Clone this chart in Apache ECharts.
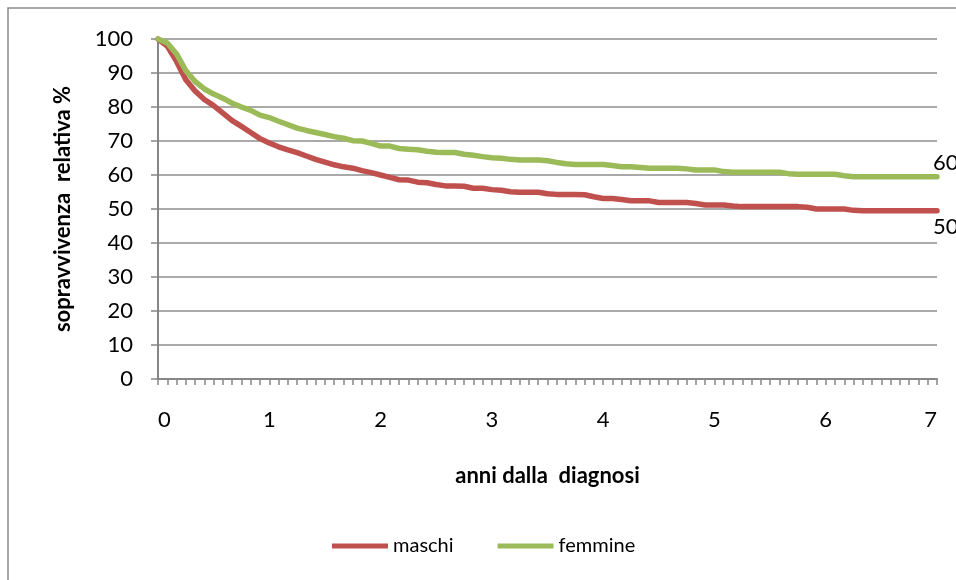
<!DOCTYPE html>
<html>
<head>
<meta charset="utf-8">
<script src="https://cdn.jsdelivr.net/npm/echarts@6/dist/echarts.min.js"></script>
<style>
html,body{margin:0;padding:0;background:#fff;}
#c{width:956px;height:580px;}
</style>
</head>
<body>
<div id="c"></div>
<script>
// months since diagnosis (0..84)
const months = Array.from({length: 85}, (_, i) => String(i));
const yearLabels = ['0','1','2','3','4','5','6','7'];
const seriesNames = ['maschi', 'femmine'];

const maschi = [
  100, 97.9, 93.4, 88.0, 84.7, 82.2, 80.4, 78.2, 76.0, 74.3,
  72.5, 70.7, 69.4, 68.3, 67.4, 66.6, 65.6, 64.6, 63.8, 63.0,
  62.4, 62.0, 61.3, 60.7, 60.0, 59.3, 58.6, 58.5, 57.9, 57.7,
  57.2, 56.8, 56.8, 56.7, 56.1, 56.1, 55.7, 55.5, 55.1, 54.9,
  54.9, 54.9, 54.5, 54.3, 54.3, 54.3, 54.2, 53.6, 53.1, 53.1,
  52.8, 52.4, 52.4, 52.4, 51.9, 51.9, 51.9, 51.9, 51.6, 51.2,
  51.2, 51.2, 50.9, 50.7, 50.7, 50.7, 50.7, 50.7, 50.7, 50.7,
  50.5, 50.0, 50.0, 50.0, 50.0, 49.6, 49.5, 49.5, 49.5, 49.5,
  49.5, 49.5, 49.5, 49.5, 49.5
];

const femmine = [
  100, 98.8, 95.6, 90.7, 87.5, 85.3, 83.8, 82.6, 81.1, 80.0,
  79.0, 77.6, 76.9, 75.8, 74.8, 73.8, 73.1, 72.5, 71.9, 71.3,
  70.8, 70.1, 70.0, 69.3, 68.5, 68.5, 67.8, 67.6, 67.4, 67.0,
  66.7, 66.6, 66.6, 66.1, 65.8, 65.4, 65.1, 64.9, 64.6, 64.4,
  64.4, 64.4, 64.2, 63.7, 63.3, 63.1, 63.1, 63.1, 63.1, 62.8,
  62.4, 62.4, 62.2, 62.0, 62.0, 62.0, 62.0, 61.8, 61.5, 61.5,
  61.5, 61.0, 60.8, 60.8, 60.8, 60.8, 60.8, 60.8, 60.4, 60.2,
  60.2, 60.2, 60.2, 60.2, 59.8, 59.5, 59.5, 59.5, 59.5, 59.5,
  59.5, 59.5, 59.5, 59.5, 59.5
];

const FONT = 'Lato, "Open Sans", sans-serif';
const AXIS_GRAY = '#868686';

function endLabel(offset) {
  return {
    show: true, distance: 0, offset: offset,
    formatter: p => String(Math.round(p.value)),
    color: '#000', fontFamily: FONT, fontSize: 22
  };
}

const chart = echarts.init(document.getElementById('c'), null, {renderer: 'canvas'});
chart.setOption({
  animation: false,
  backgroundColor: '#fff',
  grid: {left: 158, right: 19, top: 39, bottom: 201, containLabel: false},
  graphic: [{
    type: 'rect', silent: true, z: -1,
    shape: {x: 8, y: 8, width: 1200, height: 1200},
    style: {fill: 'none', stroke: '#8a8a8a', lineWidth: 1.5}
  }],
  legend: {
    left: 332, top: 536, padding: 0,
    itemWidth: 56, itemHeight: 5, itemGap: 44,
    icon: 'rect',
    textStyle: {fontFamily: FONT, fontSize: 20, color: '#000', padding: [0,0,0,0]},
    data: seriesNames
  },
  xAxis: {
    type: 'category',
    data: months,
    boundaryGap: false,
    name: 'anni dalla  diagnosi',
    nameLocation: 'middle',
    nameGap: 86,
    nameTextStyle: {fontFamily: FONT, fontSize: 22, fontWeight: 'bold', color: '#000'},
    axisLine: {lineStyle: {color: AXIS_GRAY, width: 2}},
    axisTick: {show: true, interval: 0, length: 6, inside: false, lineStyle: {color: AXIS_GRAY, width: 1.5}},
    axisLabel: {
      interval: 11, margin: 30,
      fontFamily: FONT, fontSize: 22, color: '#000',
      alignMinLabel: 'left', alignMaxLabel: 'right',
      formatter: (v, i) => yearLabels[Math.round(i / 12)]
    },
    splitLine: {show: false}
  },
  yAxis: {
    type: 'value',
    min: 0, max: 100, interval: 10,
    name: 'sopravvivenza  relativa %',
    nameLocation: 'middle',
    nameGap: 84,
    nameRotate: 90,
    nameTextStyle: {fontFamily: FONT, fontSize: 22, fontWeight: 'bold', color: '#000'},
    axisLine: {show: true, lineStyle: {color: AXIS_GRAY, width: 2}},
    axisTick: {show: true, length: 7, inside: false, lineStyle: {color: AXIS_GRAY, width: 1.5}},
    axisLabel: {margin: 25, fontFamily: FONT, fontSize: 22, color: '#000'},
    splitLine: {show: true, lineStyle: {color: '#8c8c8c', width: 1.5}}
  },
  series: [
    {
      name: seriesNames[0], type: 'line',
      data: maschi,
      showSymbol: false, symbol: 'none',
      color: '#C0504D',
      lineStyle: {width: 5.5, color: '#C0504D', join: 'round', cap: 'round'},
      endLabel: endLabel([-4, 16]),
      z: 3
    },
    {
      name: seriesNames[1], type: 'line',
      data: femmine,
      showSymbol: false, symbol: 'none',
      color: '#9BBB59',
      lineStyle: {width: 5.5, color: '#9BBB59', join: 'round', cap: 'round'},
      endLabel: endLabel([-4, -14]),
      z: 4
    }
  ]
});
</script>
</body>
</html>
